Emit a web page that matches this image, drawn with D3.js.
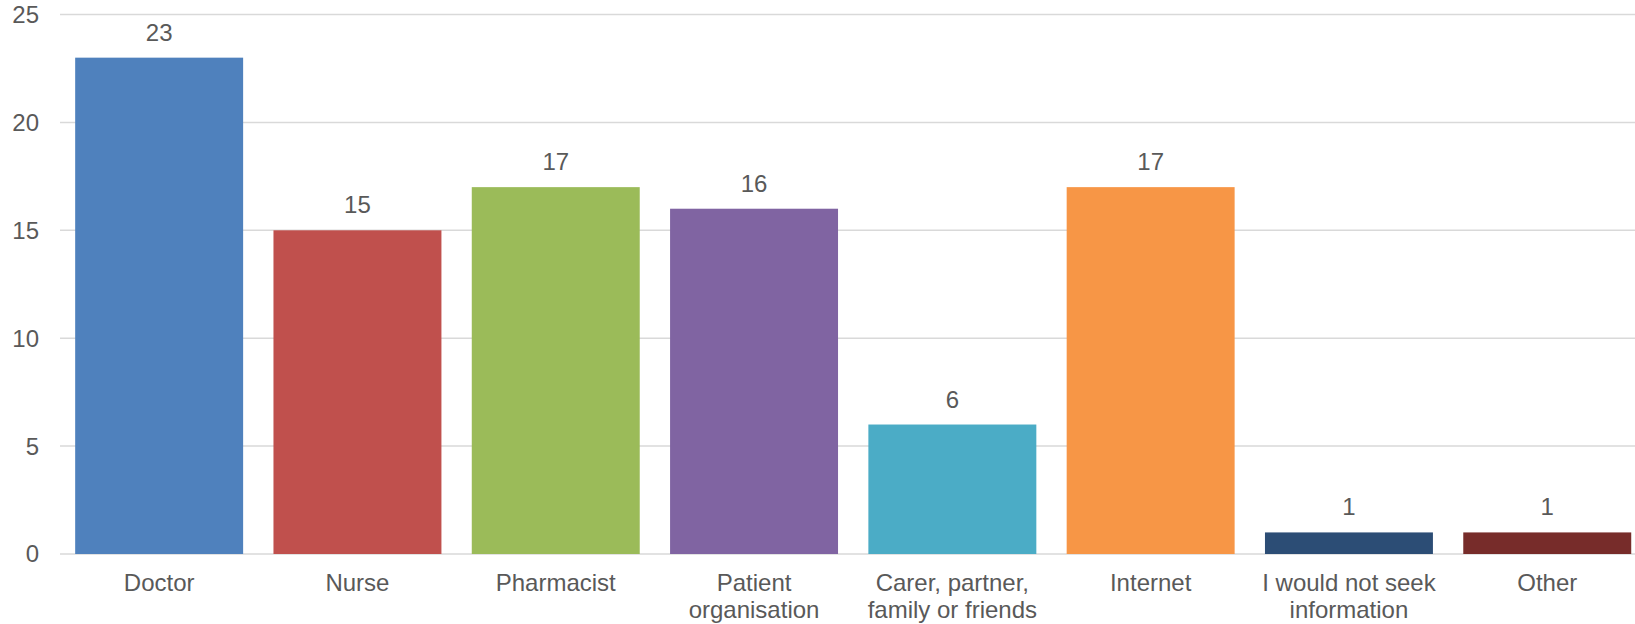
<!DOCTYPE html>
<html>
<head>
<meta charset="utf-8">
<script src="https://cdn.jsdelivr.net/npm/d3@7"></script>
<style>
  html, body { margin: 0; padding: 0; background: #fff; }
  svg { display: block; }
  text { font-family: "Liberation Sans", Arial, sans-serif; fill: #595959; }
</style>
</head>
<body>
<svg id="chart" width="1635" height="624"></svg>
<script>
const categories = ["Doctor", "Nurse", "Pharmacist", "Patient\norganisation", "Carer, partner,\nfamily or friends", "Internet", "I would not seek\ninformation", "Other"];
const values = [23, 15, 17, 16, 6, 17, 1, 1];
const colors = ["#4F81BD", "#C0504D", "#9BBB59", "#8064A2", "#4BACC6", "#F79646", "#2C4D75", "#772C2A"];
const yTicks = [0, 5, 10, 15, 20, 25];

(function () {
const svg = d3.select("#chart");
const plotLeft = 60, plotRight = 1646.4, plotTop = 14.5, plotBottom = 554;

const x = d3.scaleBand().domain(d3.range(categories.length)).range([plotLeft, plotRight])
  .paddingInner(0.153).paddingOuter(0.0765);
const y = d3.scaleLinear().domain([0, 25]).range([plotBottom, plotTop]);

// gridlines
svg.append("g").selectAll("line").data(yTicks).join("line")
  .attr("x1", plotLeft).attr("x2", plotRight)
  .attr("y1", d => y(d)).attr("y2", d => y(d))
  .attr("stroke", "#d9d9d9").attr("stroke-width", 1.5);

// y tick labels
svg.append("g").selectAll("text").data(yTicks).join("text")
  .attr("x", 39).attr("y", d => y(d)).attr("dy", "0.35em")
  .attr("text-anchor", "end").attr("font-size", 24)
  .text(d => d);

// bars
svg.append("g").selectAll("rect").data(values).join("rect")
  .attr("x", (d, i) => x(i)).attr("width", x.bandwidth())
  .attr("y", d => y(d)).attr("height", d => y(0) - y(d))
  .attr("fill", (d, i) => colors[i]);

// value labels
svg.append("g").selectAll("text").data(values).join("text")
  .attr("x", (d, i) => x(i) + x.bandwidth() / 2)
  .attr("y", d => y(d) - 17)
  .attr("text-anchor", "middle").attr("font-size", 24)
  .text(d => d);

// category labels
const cat = svg.append("g").selectAll("text").data(categories).join("text")
  .attr("x", (d, i) => x(i) + x.bandwidth() / 2)
  .attr("y", plotBottom + 37)
  .attr("text-anchor", "middle").attr("font-size", 24);
cat.each(function(d, i) {
  const t = d3.select(this);
  d.split("\n").forEach((line, j) => {
    t.append("tspan").attr("x", x(i) + x.bandwidth() / 2)
      .attr("dy", j === 0 ? 0 : 26.5).text(line);
  });
});
})();
</script>
</body>
</html>
